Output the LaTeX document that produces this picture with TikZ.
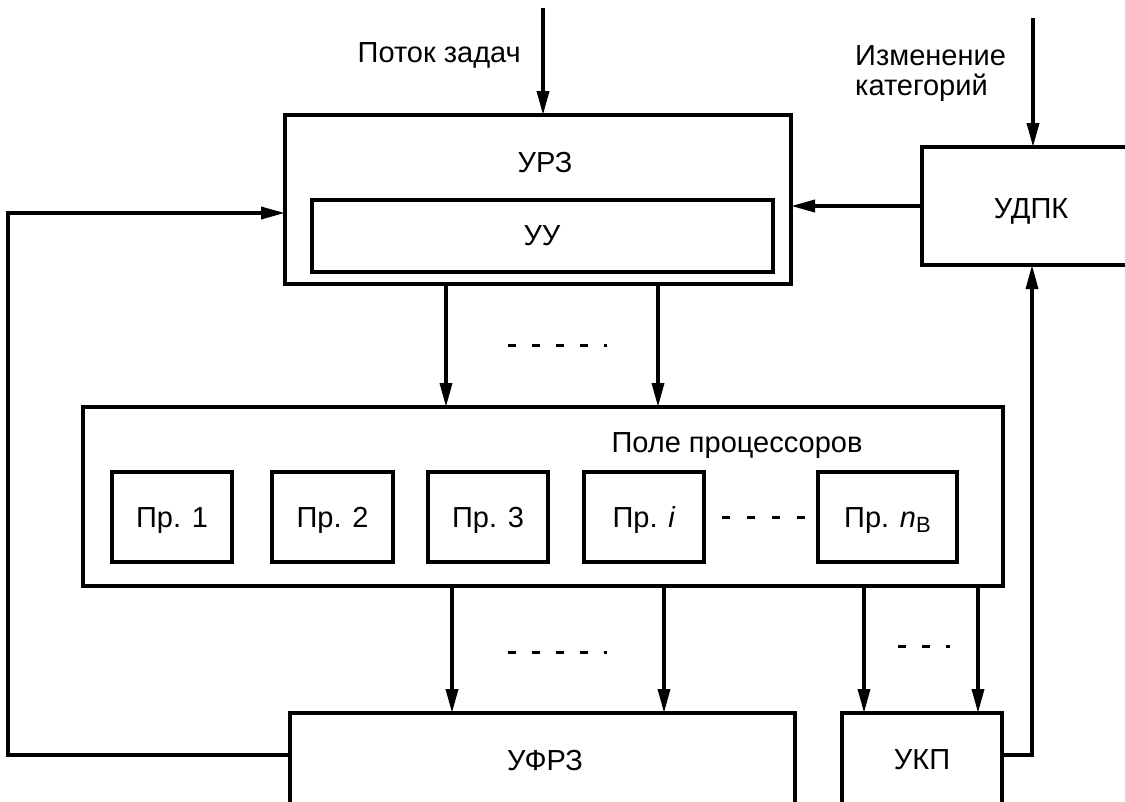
\documentclass[tikz,border=0pt]{standalone}
\usepackage{fontspec}
\setmainfont{Liberation Sans}
\usetikzlibrary{arrows.meta}
\begin{document}
\begin{tikzpicture}[x=1pt,y=-1pt,
  box/.style={draw,line width=3.5pt,inner sep=0pt,outer sep=0pt},
  arr/.style={line width=3.5pt,-{Triangle[length=24pt,width=12pt]}},
  ln/.style={line width=3.5pt},
  txt/.style={font=\fontsize{29}{34}\selectfont,inner sep=0pt},
  dotsA/.style={line width=3pt,dash pattern=on 7.5pt off 16.5pt},
  dotsB/.style={line width=3pt,dash pattern=on 8pt off 17pt}
]
\useasboundingbox (0,0) rectangle (1125,801);
\clip (0,0) rectangle (1125,801);

% boxes
\node[box,minimum width=506pt,minimum height=169pt] (urz) at (538,199.5) {};
\node[box,minimum width=461pt,minimum height=72pt] (uu) at (542.5,236) {};
\node[box,minimum width=218pt,minimum height=118pt] (udpk) at (1031,206) {};
\node[box,minimum width=920pt,minimum height=179pt] (field) at (543,496.5) {};
\node[box,minimum width=120pt,minimum height=90pt] (p1) at (172,517) {};
\node[box,minimum width=121pt,minimum height=90pt] (p2) at (332.5,517) {};
\node[box,minimum width=120pt,minimum height=90pt] (p3) at (488,517) {};
\node[box,minimum width=120pt,minimum height=90pt] (pi) at (644,517) {};
\node[box,minimum width=139pt,minimum height=90pt] (pn) at (887.5,517) {};
\node[box,minimum width=505pt,minimum height=137pt] (ufrz) at (542.5,781.5) {};
\node[box,minimum width=160pt,minimum height=137pt] (ukp) at (922,781.5) {};

% texts
\node[txt,anchor=base east] (tflow) at (521,62) {Поток задач};
\node[txt,anchor=base west] (tchg1) at (855,65) {Изменение};
\node[txt,anchor=base west] (tchg2) at (855,95) {категорий};
\node[txt,anchor=base] (turz) at (545,172) {УРЗ};
\node[txt,anchor=base] (tuu) at (542,245) {УУ};
\node[txt,anchor=base] (tudpk) at (1031,218) {УДПК};
\node[txt,anchor=base] (tfield) at (737,452) {Поле процессоров};
\node[txt,anchor=base] (tp1) at (172,527) {Пр. 1};
\node[txt,anchor=base] (tp2) at (332.5,527) {Пр. 2};
\node[txt,anchor=base] (tp3) at (488,527) {Пр. 3};
\node[txt,anchor=base] (tpi) at (644,527) {Пр. \textit{i}};
\node[txt,anchor=base] (tpn) at (887.5,527) {Пр. \textit{n}\raisebox{-5pt}{\fontsize{22}{22}\selectfont В}};
\node[txt,anchor=base] (tufrz) at (545,770) {УФРЗ};
\node[txt,anchor=base] (tukp) at (922,769) {УКП};

% helper coordinates
\coordinate (t1) at (543,8);
\coordinate (t2) at (1033,18);
\coordinate (a1) at (446,0);
\coordinate (a2) at (658,0);
\coordinate (b1) at (452,0);
\coordinate (b2) at (664,0);
\coordinate (b3) at (864,0);
\coordinate (b4) at (978,0);
\coordinate (xl) at (8,0);
\coordinate (xr) at (1032,0);
\coordinate (ya) at (0,213);
\coordinate (yb) at (0,755);

% connectors
\draw[arr] (t1) -- (t1 |- urz.north);
\draw[arr] (t2) -- (t2 |- udpk.north);
\draw[arr] (udpk.west) -- (urz.east |- udpk.west);
\draw[arr] (a1 |- urz.south) -- (a1 |- field.north);
\draw[arr] (a2 |- urz.south) -- (a2 |- field.north);
\draw[arr] (b1 |- field.south) -- (b1 |- ufrz.north);
\draw[arr] (b2 |- field.south) -- (b2 |- ufrz.north);
\draw[arr] (b3 |- field.south) -- (b3 |- ukp.north);
\draw[arr] (b4 |- field.south) -- (b4 |- ukp.north);
\draw[arr] (ufrz.west |- yb) -- (xl |- yb) -- (xl |- ya) -- (urz.west |- ya);
\draw[arr] (ukp.east |- yb) -- (xr |- yb) -- (xr |- udpk.south);

% dashed gaps
\coordinate (d1s) at (508,345); \coordinate (d1e) at (607,345);
\coordinate (d2s) at (508,652); \coordinate (d2e) at (607,652);
\coordinate (d3s) at (898,646); \coordinate (d3e) at (950,646);
\draw[dotsA] (d1s) -- (d1e);
\draw[dotsA] (d2s) -- (d2e);
\draw[dotsA] (d3s) -- (d3e);
\draw[dotsB] ([xshift=18pt]pi.east) -- ([xshift=-13pt]pn.west);
\end{tikzpicture}
\end{document}
